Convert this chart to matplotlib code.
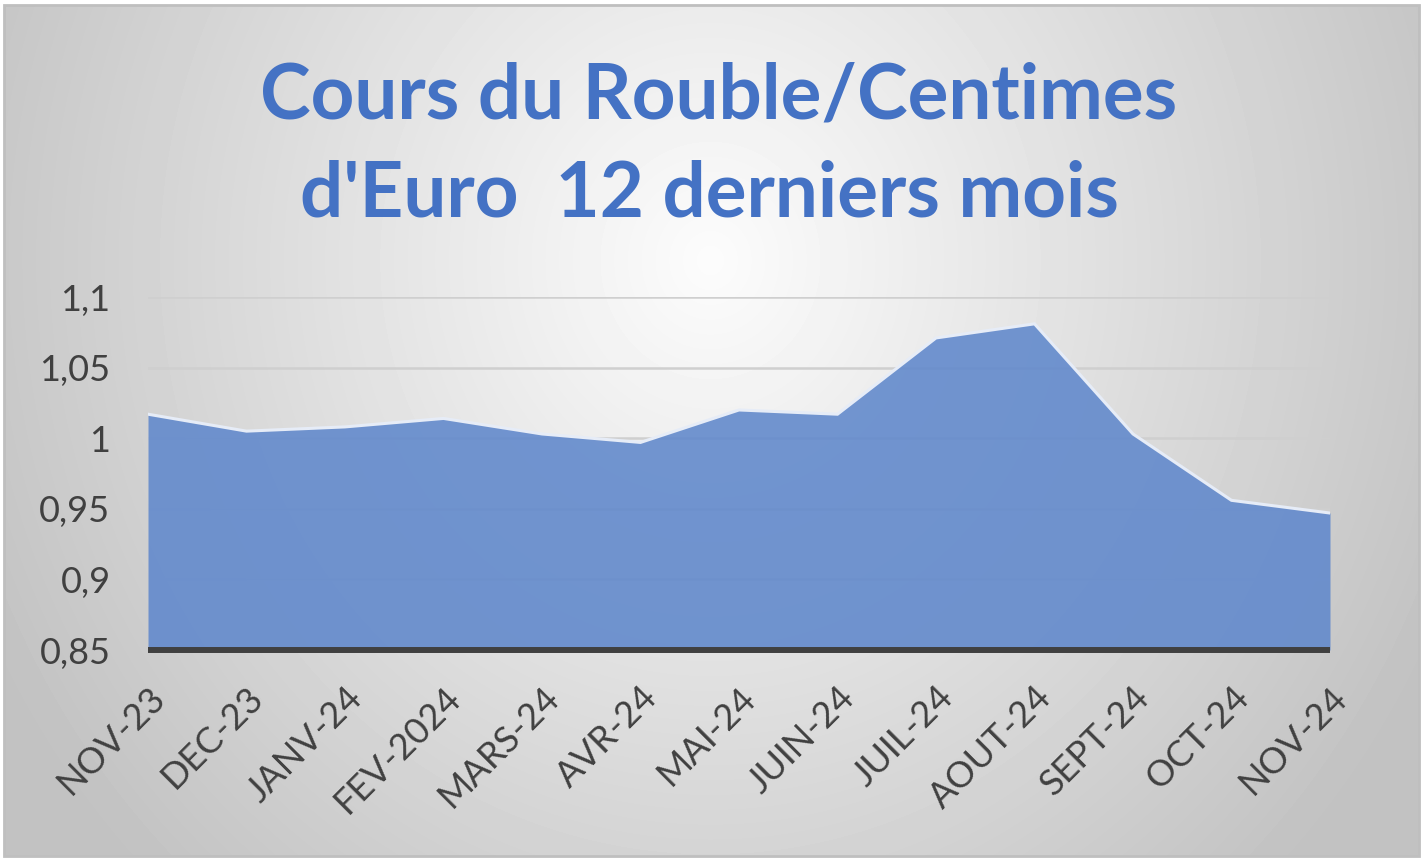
import numpy as np
import matplotlib
matplotlib.use("Agg")
import matplotlib.pyplot as plt
from matplotlib.patches import Rectangle

W, H = 1425, 861
DPI = 100

months = ["NOV-23", "DEC-23", "JANV-24", "FEV-2024", "MARS-24", "AVR-24", "MAI-24",
          "JUIN-24", "JUIL-24", "AOUT-24", "SEPT-24", "OCT-24", "NOV-24"]
rate = [1.017, 1.005, 1.008, 1.014, 1.003, 0.997, 1.020,
        1.017, 1.071, 1.081, 1.003, 0.956, 0.947]
y_ticks = [0.85, 0.9, 0.95, 1.0, 1.05, 1.1]
y_labels = ["0,85", "0,9", "0,95", "1", "1,05", "1,1"]

TITLE_1 = "Cours du Rouble/Centimes"
TITLE_2 = "d'Euro  12 derniers mois"

BLUE_TITLE = "#4472C4"
FILL = "#638ACC"
TXT = "#404040"
FONT = "Lato"


def px(x, y):
    # pixel coords (from top-left) -> figure fraction
    return x / W, 1 - y / H


fig = plt.figure(figsize=(W / DPI, H / DPI), dpi=DPI)
fig.patch.set_facecolor("white")

# chart area background: soft radial grey gradient
x0, y0, x1, y1 = 4, 5, 1419, 856
bg = fig.add_axes([x0 / W, 1 - y1 / H, (x1 - x0) / W, (y1 - y0) / H], zorder=-5)
gx, gy = np.meshgrid(np.arange(x0, x1), np.arange(y0, y1))
d = np.sqrt(((gx - 710) / 760.0) ** 2 + ((gy - 260) / 820.0) ** 2)
shade = np.clip(252 - 55 * d, 194, 252) / 255.0
bg.imshow(shade, cmap="gray", vmin=0, vmax=1, aspect="auto", interpolation="bilinear")
bg.set_axis_off()
fig.patches.append(Rectangle((x0 / W, 1 - y1 / H), (x1 - x0) / W, (y1 - y0) / H,
                             transform=fig.transFigure, fill=False,
                             edgecolor="#bfbfbf", linewidth=2, zorder=10))

# plot area
l, t = px(148, 297)
r, b = px(1330, 650)
ax = fig.add_axes([l, b, r - l, t - b])
ax.patch.set_alpha(0)

xs = np.arange(len(months))
ax.set_xlim(xs[0], xs[-1])
ax.set_ylim(0.85, 1.1)

for v in y_ticks[1:]:
    ax.axhline(v, color="#cfcfcf", linewidth=1.8, zorder=1)

ax.fill_between(xs, 0.85, rate, color=FILL, alpha=0.9, linewidth=0, zorder=2)
ax.plot(xs, rate, color="#e6ecf7", linewidth=2.2, zorder=3, solid_joinstyle="miter")
ax.axhline(0.85, color=TXT, linewidth=4.3, zorder=4, clip_on=False, solid_capstyle="butt")

for s in ax.spines.values():
    s.set_visible(False)

ax.set_yticks(y_ticks)
ax.set_yticklabels(y_labels, fontsize=26, color=TXT, family=FONT)
ax.tick_params(axis="y", length=0, pad=27)

ax.set_xticks(xs)
ax.set_xticklabels(months, rotation=45, ha="right", va="top", rotation_mode="anchor",
                   fontsize=26, color=TXT, family=FONT)
ax.tick_params(axis="x", length=0, pad=22)

fig.text(*px(719, 118), TITLE_1, ha="center", va="baseline", fontsize=55,
         fontweight="bold", color=BLUE_TITLE, family=FONT)
fig.text(*px(710, 217), TITLE_2, ha="center", va="baseline", fontsize=55,
         fontweight="bold", color=BLUE_TITLE, family=FONT)

fig.savefig("out.png", dpi=DPI)
